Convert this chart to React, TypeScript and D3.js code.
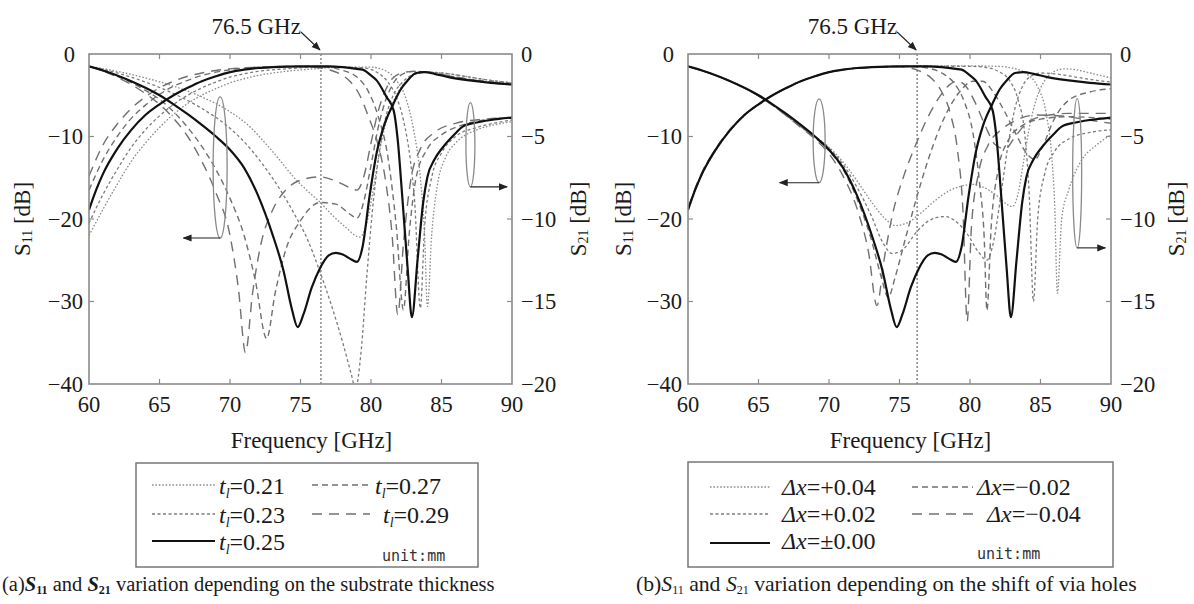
import React from 'react';
import * as d3 from 'd3';

type Pt = [number, number];

// ---------- axes ----------
const freqDomain: [number, number] = [60, 90];
const s11Domain: [number, number] = [-40, 0];
const s21Domain: [number, number] = [-20, 0];
const freqTicks = [60, 65, 70, 75, 80, 85, 90];
const s11Ticks = [0, -10, -20, -30, -40];
const s21Ticks = [0, -5, -10, -15, -20];
const markerLabel = '76.5 GHz';
const markerFreqA = 76.45;
const markerFreqB = 76.25;

// ---------- (a) substrate thickness: S11 [dB] ----------
const s11_t021: Pt[] = [[60,-1.5],[62,-2.1],[64,-2.9],[66,-3.9],[68,-5.2],[70,-7.0],[71.4,-8.8],[72.5,-10.8],[73.5,-12.8],[74.5,-14.9],[75.5,-16.6],[76.4,-18],[77.3,-19.6],[78.2,-21],[79.2,-22.2],[79.7,-20.5],[80.2,-16],[80.7,-11],[81.2,-7.5],[81.8,-5],[82.5,-3.3],[83.3,-2.4],[84,-2.2],[85,-2.3],[87,-2.8],[88.5,-3.2],[90,-3.5]];
const s11_t023: Pt[] = [[60,-1.5],[62,-2.3],[64,-3.4],[66,-4.8],[68,-6.6],[70,-9],[71.4,-11.4],[72.5,-13.8],[73.5,-16.3],[74.5,-19.2],[75.5,-22.5],[76.4,-26.5],[77.2,-30.5],[78,-35],[78.6,-38.8],[78.9,-40.6],[79.3,-36],[79.7,-27],[80.1,-19],[80.5,-13],[81,-8],[81.5,-5.3],[82.3,-3.3],[83,-2.5],[84,-2.2],[85,-2.3],[87,-2.8],[88.5,-3.2],[90,-3.5]];
const s11_t025: Pt[] = [[60,-1.5],[61,-2.0],[62,-2.6],[63,-3.3],[64,-4.1],[65,-5.0],[66,-6.1],[67,-7.3],[68,-8.6],[69,-10.0],[70,-11.6],[71,-13.8],[72,-17.2],[73,-21.8],[73.8,-26.3],[74.4,-31],[74.8,-33.1],[75.2,-31.6],[75.8,-28.3],[76.4,-25.9],[77,-24.4],[77.5,-24.1],[78,-24.3],[78.5,-24.8],[79,-25.2],[79.4,-23.4],[79.9,-17.2],[80.4,-12],[80.9,-8.8],[81.6,-6],[82.1,-4.3],[82.6,-3.2],[83.2,-2.3],[83.8,-2.2],[84.5,-2.4],[85.5,-2.8],[87,-3.2],[88.5,-3.5],[90,-3.7]];
const s11_t027: Pt[] = [[60,-1.5],[62,-2.7],[64,-4.4],[65,-5.5],[66,-7],[67,-8.9],[68,-11.2],[69,-14],[70,-17.5],[71,-22],[71.8,-27.5],[72.6,-34.5],[73.2,-29],[74,-23.5],[75,-20.2],[76.4,-18],[77.5,-18.2],[78.5,-19.4],[79,-19.9],[79.5,-17.8],[80,-13.5],[80.5,-9],[81,-5.8],[81.5,-3.8],[82,-2.7],[83,-2.1],[84,-2.2],[86,-2.8],[88,-3.3],[90,-3.6]];
const s11_t029: Pt[] = [[60,-1.5],[62,-2.8],[64,-4.8],[65,-6.1],[66,-7.8],[67,-10],[68,-13],[69,-16.8],[70,-22],[70.6,-28.5],[71.1,-36.2],[71.6,-29],[72.2,-23],[73,-19],[74,-16.4],[75,-15.3],[76.4,-14.9],[77.5,-15.4],[78.5,-16.2],[79,-16.5],[79.5,-14.8],[80,-10.8],[80.5,-7],[81,-4.5],[81.5,-3],[82,-2.4],[83,-2.1],[84,-2.2],[86,-2.8],[88,-3.3],[90,-3.6]];

// ---------- (a) substrate thickness: S21 [dB] ----------
const s21_t021: Pt[] = [[60,-11],[61,-9.4],[62,-7.9],[63,-6.5],[64,-5.4],[65,-4.45],[66,-3.65],[67,-3],[68,-2.5],[69,-2.1],[70,-1.75],[71,-1.5],[72,-1.3],[74,-1.05],[76,-0.9],[78,-0.8],[80,-0.8],[81,-1],[81.8,-1.6],[82.5,-2.75],[83,-4.5],[83.5,-7.5],[83.8,-11],[84,-15.3],[84.3,-11],[84.7,-8],[85.3,-6.25],[86,-5.4],[87.5,-4.6],[89,-4.25],[90,-4.1]];
const s21_t023: Pt[] = [[60,-10.25],[61,-8.5],[62,-7],[63,-5.65],[64,-4.6],[65,-3.75],[66,-3.05],[67,-2.5],[68,-2.05],[69,-1.7],[70,-1.4],[71,-1.2],[72,-1.05],[74,-0.9],[76,-0.8],[78,-0.8],[79.5,-0.85],[80.5,-1.15],[81.2,-1.7],[81.8,-2.6],[82.3,-4],[82.8,-6.5],[83.1,-9],[83.5,-15.4],[83.8,-10.5],[84.3,-7.5],[85,-6],[86,-5],[87.5,-4.45],[89,-4.15],[90,-4]];
const s21_t025: Pt[] = [[60,-9.45],[60.5,-8.25],[61,-7.25],[62,-5.75],[63,-4.6],[64,-3.7],[65,-3.05],[66,-2.5],[67,-2.05],[68,-1.65],[69,-1.35],[70,-1.1],[71,-0.95],[72,-0.85],[73,-0.8],[75,-0.75],[77,-0.75],[78,-0.8],[79,-0.9],[79.4,-0.95],[80,-1.3],[80.4,-1.6],[81.1,-2.6],[81.6,-3.4],[81.9,-5.25],[82.2,-8.45],[82.6,-13],[82.9,-15.95],[83.3,-12.5],[83.7,-9],[84,-7.45],[84.5,-6.4],[85.1,-5.65],[86,-4.8],[86.5,-4.4],[87.5,-4.15],[88.5,-4],[90,-3.85]];
const s21_t027: Pt[] = [[60,-8.25],[61,-6.4],[62,-5],[63,-3.9],[64,-3.1],[65,-2.45],[66,-1.95],[67,-1.6],[68,-1.3],[69,-1.1],[70,-0.95],[72,-0.8],[75,-0.75],[77,-0.8],[78,-1],[79,-1.4],[79.8,-2.25],[80.5,-3.75],[81.2,-6.25],[81.8,-10.5],[82.3,-15.5],[82.7,-11],[83.2,-7.5],[84,-5.75],[85,-4.9],[86.5,-4.3],[88,-4],[90,-3.85]];
const s21_t029: Pt[] = [[60,-7.4],[61,-5.5],[62,-4.25],[63,-3.3],[64,-2.6],[65,-2.05],[66,-1.65],[67,-1.35],[68,-1.15],[69,-1],[70,-0.9],[72,-0.8],[74,-0.75],[76,-0.8],[77,-0.95],[77.8,-1.2],[78.5,-1.65],[79.2,-2.5],[79.8,-3.75],[80.5,-5.5],[81,-7.5],[81.5,-11],[81.9,-15.8],[82.3,-11.5],[82.8,-7.75],[83.5,-5.75],[84.5,-4.75],[86,-4.2],[88,-3.95],[90,-3.85]];

// ---------- (b) via-hole shift: S11 [dB] ----------
const s11_p004: Pt[] = [[60,-1.5],[62,-2.6],[64,-4.1],[66,-6.2],[68,-8.8],[69,-10],[70,-11.3],[71,-13.1],[72,-15.4],[73,-17.9],[74,-20],[74.7,-20.8],[75.5,-20.5],[76.5,-19.3],[77.5,-17.8],[78.5,-16.6],[79.4,-16],[80.2,-15.8],[81,-16.2],[82,-17.3],[82.6,-18.2],[83,-18.5],[83.4,-17],[83.8,-13],[84.2,-9],[84.7,-5.5],[85.3,-3.2],[86,-2.1],[86.7,-1.8],[87.5,-1.9],[88.5,-2.3],[90,-2.9]];
const s11_p002: Pt[] = [[60,-1.5],[62,-2.6],[64,-4.1],[66,-6.2],[68,-8.8],[69,-10],[70,-11.4],[71,-13.4],[72,-16.2],[73,-19.6],[73.8,-22.8],[74.5,-24.2],[75.3,-23.6],[76.2,-21.6],[77.2,-20.1],[78.2,-19.7],[79,-20.3],[79.8,-21.8],[80.6,-24],[81.2,-25],[81.7,-22.5],[82.2,-17],[82.7,-11],[83.2,-6.5],[83.7,-4],[84.3,-2.7],[85,-2.3],[86,-2.4],[87.5,-2.8],[89,-3.2],[90,-3.4]];
const s11_p000: Pt[] = [[60,-1.5],[61,-2.0],[62,-2.6],[63,-3.3],[64,-4.1],[65,-5.0],[66,-6.1],[67,-7.3],[68,-8.6],[69,-10.0],[70,-11.6],[71,-13.8],[72,-17.2],[73,-21.8],[73.8,-26.3],[74.4,-31],[74.8,-33.1],[75.2,-31.6],[75.8,-28.3],[76.4,-25.9],[77,-24.4],[77.5,-24.1],[78,-24.3],[78.5,-24.8],[79,-25.2],[79.4,-23.4],[79.9,-17.2],[80.4,-12],[80.9,-8.8],[81.6,-6],[82.1,-4.3],[82.6,-3.2],[83.2,-2.3],[83.8,-2.2],[84.5,-2.4],[85.5,-2.8],[87,-3.2],[88.5,-3.5],[90,-3.7]];
const s11_m002: Pt[] = [[60,-1.5],[62,-2.6],[64,-4.1],[66,-6.2],[68,-8.8],[69,-10.1],[70,-11.7],[71,-14],[72,-17.6],[73,-22.5],[73.7,-27],[74.2,-29.5],[74.7,-27],[75.4,-22.5],[76.2,-17.5],[77,-13],[77.8,-9.2],[78.6,-6.3],[79.4,-4.3],[80.2,-3.3],[80.9,-3.3],[81.6,-4.5],[82.4,-6.8],[83.2,-9.5],[84,-12],[84.6,-12.8],[85.2,-11],[86,-7.8],[87,-5.6],[88.5,-4.6],[90,-4.2]];
const s11_m004: Pt[] = [[60,-1.5],[62,-2.6],[64,-4.1],[66,-6.2],[68,-8.9],[69,-10.3],[70,-12.1],[71,-14.8],[72,-18.8],[72.8,-24],[73.4,-30.5],[73.9,-25],[74.5,-19.5],[75.3,-14.8],[76.2,-10.8],[77,-7.7],[77.8,-5.3],[78.5,-3.8],[79.1,-3.3],[79.7,-3.9],[80.4,-6],[81.1,-8.8],[81.8,-11],[82.5,-11.5],[83.2,-10],[84,-8.4],[85,-7.6],[87,-7.2],[90,-7.2]];

// ---------- (b) via-hole shift: S21 [dB] ----------
const s21_p004: Pt[] = [[60,-9.5],[60.5,-8.3],[61,-7.3],[62,-5.8],[63,-4.65],[64,-3.75],[65,-3.05],[66,-2.5],[67,-2.05],[68,-1.65],[69,-1.35],[70,-1.1],[71,-0.95],[72,-0.85],[73,-0.8],[75,-0.75],[78,-0.72],[80,-0.72],[82,-0.75],[83,-0.85],[84,-1.2],[84.8,-2],[85.4,-3.6],[85.8,-6.25],[86,-9],[86.2,-14.5],[86.5,-10],[87,-8.25],[87.8,-6.6],[89,-5.5],[90,-4.9]];
const s21_p002: Pt[] = [[60,-9.45],[60.5,-8.25],[61,-7.25],[62,-5.75],[63,-4.6],[64,-3.7],[65,-3.05],[66,-2.5],[67,-2.05],[68,-1.65],[69,-1.35],[70,-1.1],[71,-0.95],[72,-0.85],[73,-0.8],[75,-0.75],[78,-0.74],[80,-0.75],[81,-0.8],[82,-1.05],[82.8,-1.6],[83.4,-2.75],[83.9,-5],[84.2,-8.5],[84.5,-15],[84.8,-10],[85.3,-7.25],[86,-5.9],[87,-5.15],[88.5,-4.75],[90,-4.6]];
const s21_p000: Pt[] = [[60,-9.45],[60.5,-8.25],[61,-7.25],[62,-5.75],[63,-4.6],[64,-3.7],[65,-3.05],[66,-2.5],[67,-2.05],[68,-1.65],[69,-1.35],[70,-1.1],[71,-0.95],[72,-0.85],[73,-0.8],[75,-0.75],[77,-0.75],[78,-0.8],[79,-0.9],[79.4,-0.95],[80,-1.3],[80.4,-1.6],[81.1,-2.6],[81.6,-3.4],[81.9,-5.25],[82.2,-8.45],[82.6,-13],[82.9,-15.95],[83.3,-12.5],[83.7,-9],[84,-7.45],[84.5,-6.4],[85.1,-5.65],[86,-4.8],[86.5,-4.4],[87.5,-4.15],[88.5,-4],[90,-3.85]];
const s21_m002: Pt[] = [[60,-9.4],[60.5,-8.2],[61,-7.2],[62,-5.7],[63,-4.6],[64,-3.7],[65,-3.05],[66,-2.5],[67,-2.05],[68,-1.65],[69,-1.35],[70,-1.1],[71,-0.95],[72,-0.85],[73,-0.8],[75,-0.75],[76,-0.76],[77,-0.85],[78,-1.15],[78.9,-1.8],[79.6,-2.9],[80.2,-4.75],[80.7,-8],[81,-11],[81.2,-15.55],[81.5,-10.5],[82,-7],[82.7,-5.25],[83.6,-4.4],[85,-3.95],[87,-3.8],[90,-3.95]];
const s21_m004: Pt[] = [[60,-9.35],[60.5,-8.15],[61,-7.15],[62,-5.7],[63,-4.55],[64,-3.7],[65,-3.05],[66,-2.5],[67,-2.05],[68,-1.65],[69,-1.35],[70,-1.1],[71,-0.95],[72,-0.85],[73,-0.8],[75,-0.78],[75.8,-0.85],[76.6,-1.1],[77.3,-1.5],[78,-2.3],[78.6,-3.6],[79.1,-5.75],[79.5,-9.5],[79.8,-16.2],[80.1,-10.5],[80.6,-7.25],[81.3,-5.5],[82.2,-4.6],[83.3,-4],[84.7,-3.7],[86.5,-3.75],[88,-3.95],[90,-4.2]];

// ---------- legends / captions ----------
const legendA = ['0.21', '0.23', '0.25', '0.27', '0.29'];
const legendB = ['+0.04', '+0.02', '±0.00', '−0.02', '−0.04'];

// ---------- styles ----------
type StyleKey = 'dot' | 'short' | 'solid' | 'dash' | 'long';
const STYLES: Record<StyleKey, { stroke: string; width: number; dash?: string }> = {
  dot: { stroke: '#8c8c8c', width: 1.3, dash: '1.6,1.8' },
  short: { stroke: '#7c7c7c', width: 1.3, dash: '3,2.5' },
  solid: { stroke: '#111', width: 2.2 },
  dash: { stroke: '#707070', width: 1.4, dash: '6,4' },
  long: { stroke: '#707070', width: 1.4, dash: '10,7' },
};
const styleOrder: StyleKey[] = ['dot', 'short', 'solid', 'dash', 'long'];

const SERIF = '"Liberation Serif", "Times New Roman", serif';
const fmt = (v: number) => (v < 0 ? `\u2212${-v}` : `${v}`);

type PanelProps = {
  id: string;
  px0: number; px1: number; py0: number; py1: number;
  s11: Pt[][]; s21: Pt[][];
  markerFreq: number;
  ann: { e1f: number; e1t: number; e1b: number; e1rx: number; a1: number; e2f: number; e2t: number; e2b: number; e2rx: number; a2: number };
  leftLabelX: number; rightLabelX: number;
};

function Panel(p: PanelProps) {
  const x = d3.scaleLinear().domain(freqDomain).range([p.px0, p.px1]);
  const yL = d3.scaleLinear().domain(s11Domain).range([p.py1, p.py0]);
  const yR = d3.scaleLinear().domain(s21Domain).range([p.py1, p.py0]);
  const lineL = d3.line<Pt>().x(d => x(d[0])).y(d => yL(d[1])).curve(d3.curveMonotoneX);
  const lineR = d3.line<Pt>().x(d => x(d[0])).y(d => yR(d[1])).curve(d3.curveMonotoneX);
  const frame = '#8a8a8a';
  const drawOrder = [0, 1, 3, 4, 2];
  const mx = x(p.markerFreq);
  return (
    <g>
      <defs>
        <clipPath id={`clip-${p.id}`}>
          <rect x={p.px0} y={p.py0} width={p.px1 - p.px0} height={p.py1 - p.py0} />
        </clipPath>
      </defs>
      <line x1={mx} x2={mx} y1={p.py0} y2={p.py1} stroke="#777" strokeWidth={1.3} strokeDasharray="2,2" />
      <g clipPath={`url(#clip-${p.id})`} fill="none" strokeLinejoin="round">
        {drawOrder.map(i => {
          const st = STYLES[styleOrder[i]];
          return (
            <g key={i}>
              <path d={lineL(p.s11[i]) || ''} stroke={st.stroke} strokeWidth={st.width} strokeDasharray={st.dash} />
              <path d={lineR(p.s21[i]) || ''} stroke={st.stroke} strokeWidth={st.width} strokeDasharray={st.dash} />
            </g>
          );
        })}
      </g>
      <rect x={p.px0} y={p.py0} width={p.px1 - p.px0} height={p.py1 - p.py0} fill="none" stroke={frame} strokeWidth={1.6} />
      {freqTicks.slice(1, -1).map(t => (
        <g key={t} stroke={frame} strokeWidth={1.2}>
          <line x1={x(t)} x2={x(t)} y1={p.py0} y2={p.py0 + 5} />
          <line x1={x(t)} x2={x(t)} y1={p.py1} y2={p.py1 - 5} />
        </g>
      ))}
      {s11Ticks.slice(1, -1).map(t => (
        <line key={t} x1={p.px0} x2={p.px0 + 5} y1={yL(t)} y2={yL(t)} stroke={frame} strokeWidth={1.2} />
      ))}
      {s21Ticks.slice(1, -1).map(t => (
        <line key={t} x1={p.px1} x2={p.px1 - 5} y1={yR(t)} y2={yR(t)} stroke={frame} strokeWidth={1.2} />
      ))}
      <g fontFamily={SERIF} fontSize={22.5} fill="#1a1a1a">
        {freqTicks.map(t => (
          <text key={t} x={x(t)} y={p.py1 + 28} textAnchor="middle">{t}</text>
        ))}
        {s11Ticks.map(t => (
          <text key={t} x={t === 0 ? p.px0 - 14 : p.px0 - 6} y={yL(t) + 7.5} textAnchor="end">{fmt(t)}</text>
        ))}
        {s21Ticks.map(t => (
          <text key={t} x={p.px1 + 9} y={yR(t) + 7.5} textAnchor="start">{fmt(t)}</text>
        ))}
      </g>
      <text x={(p.px0 + p.px1) / 2 + 11} y={p.py1 + 64} textAnchor="middle" fontFamily={SERIF} fontSize={23} fill="#1a1a1a">Frequency [GHz]</text>
      <text transform={`translate(${p.leftLabelX},${(p.py0 + p.py1) / 2}) rotate(-90)`} textAnchor="middle" dominantBaseline="central" fontFamily={SERIF} fontSize={23} fill="#1a1a1a">
        S<tspan fontSize={14} dy={5}>11</tspan><tspan dy={-5}> [dB]</tspan>
      </text>
      <text transform={`translate(${p.rightLabelX},${(p.py0 + p.py1) / 2}) rotate(-90)`} textAnchor="middle" dominantBaseline="central" fontFamily={SERIF} fontSize={23} fill="#1a1a1a">
        S<tspan fontSize={14} dy={5}>21</tspan><tspan dy={-5}> [dB]</tspan>
      </text>
      <text x={mx - 20} y={p.py0 - 20} textAnchor="end" fontFamily={SERIF} fontSize={23} fill="#1a1a1a">{markerLabel}</text>
      <line x1={mx - 20} y1={p.py0 - 22} x2={mx - 1} y2={p.py0 - 4} stroke="#222" strokeWidth={1.1} markerEnd="url(#arrowHead)" />
      <ellipse cx={x(p.ann.e1f)} cy={(yL(p.ann.e1t) + yL(p.ann.e1b)) / 2} rx={p.ann.e1rx} ry={(yL(p.ann.e1b) - yL(p.ann.e1t)) / 2} fill="none" stroke="#8a8a8a" strokeWidth={1.3} />
      <line x1={x(p.ann.e1f)} y1={yL(p.ann.e1b)} x2={x(p.ann.a1)} y2={yL(p.ann.e1b)} stroke="#222" strokeWidth={1.1} markerEnd="url(#arrowHead)" />
      <ellipse cx={x(p.ann.e2f)} cy={(yR(p.ann.e2t) + yR(p.ann.e2b)) / 2} rx={p.ann.e2rx} ry={(yR(p.ann.e2b) - yR(p.ann.e2t)) / 2} fill="none" stroke="#8a8a8a" strokeWidth={1.3} />
      <line x1={x(p.ann.e2f)} y1={yR(p.ann.e2b)} x2={x(p.ann.a2)} y2={yR(p.ann.e2b)} stroke="#222" strokeWidth={1.1} markerEnd="url(#arrowHead)" />
    </g>
  );
}

type LegendProps = {
  box: [number, number, number, number];
  cols: { lx0: number; lx1: number; tx: number[] }[];
  rows: { line: number; base: number }[];
  labels: React.ReactNode[];
  unit: [number, number];
};

function Legend(l: LegendProps) {
  const [bx0, by0, bx1, by1] = l.box;
  const slots = [
    { c: 0, r: 0 }, { c: 0, r: 1 }, { c: 0, r: 2 }, { c: 1, r: 0 }, { c: 1, r: 1 },
  ];
  return (
    <g>
      <rect x={bx0} y={by0} width={bx1 - bx0} height={by1 - by0} fill="#fff" stroke="#777" strokeWidth={1.5} />
      {slots.map((s, i) => {
        const st = STYLES[styleOrder[i]];
        const col = l.cols[s.c];
        const row = l.rows[s.r];
        return (
          <g key={i}>
            <line x1={col.lx0} x2={col.lx1} y1={row.line} y2={row.line} stroke={st.stroke} strokeWidth={st.width} strokeDasharray={st.dash} />
            <text x={col.tx[s.r]} y={row.base} fontFamily={SERIF} fontSize={24} fill="#1a1a1a">{l.labels[i]}</text>
          </g>
        );
      })}
      <text x={l.unit[0]} y={l.unit[1]} fontFamily='"DejaVu Sans Mono", monospace' fontSize={15} fill="#333">unit:mm</text>
    </g>
  );
}

const tLabel = (v: string) => (
  <>
    <tspan fontStyle="italic">t</tspan>
    <tspan fontStyle="italic" fontSize={14} dy={4}>l</tspan>
    <tspan dy={-4}>={v}</tspan>
  </>
);
const dxLabel = (v: string) => (
  <>
    <tspan fontStyle="italic">Δx</tspan>
    <tspan>={v}</tspan>
  </>
);

export default function App() {
  return (
    <svg width={1194} height={604} viewBox="0 0 1194 604" style={{ position: 'absolute', left: 0, top: 0, background: '#fff' }}>
      <defs>
        <marker id="arrowHead" viewBox="0 0 10 10" refX={9} refY={5} markerWidth={9} markerHeight={9} markerUnits="userSpaceOnUse" orient="auto">
          <path d="M0,1 L10,5 L0,9 z" fill="#222" />
        </marker>
      </defs>
      <rect x={0} y={0} width={1194} height={604} fill="#fff" />
      <Panel
        id="a" px0={89} px1={512} py0={54} py1={384}
        s11={[s11_t021, s11_t023, s11_t025, s11_t027, s11_t029]}
        s21={[s21_t021, s21_t023, s21_t025, s21_t027, s21_t029]}
        markerFreq={markerFreqA}
        ann={{ e1f: 69.3, e1t: -5.2, e1b: -22.3, e1rx: 7, a1: 66.7, e2f: 87.05, e2t: -2.95, e2b: -8.05, e2rx: 4.5, a2: 89.65 }}
        leftLabelX={22} rightLabelX={578}
      />
      <Panel
        id="b" px0={688} px1={1111} py0={54} py1={384}
        s11={[s11_p004, s11_p002, s11_p000, s11_m002, s11_m004]}
        s21={[s21_p004, s21_p002, s21_p000, s21_m002, s21_m004]}
        markerFreq={markerFreqB}
        ann={{ e1f: 69.3, e1t: -5.45, e1b: -15.6, e1rx: 6, a1: 66.5, e2f: 87.6, e2t: -2.7, e2b: -11.75, e2rx: 4.5, a2: 89.6 }}
        leftLabelX={623} rightLabelX={1176}
      />
      <Legend
        box={[136, 463, 478, 567]}
        cols={[{ lx0: 152, lx1: 215, tx: [219, 219, 219] }, { lx0: 312, lx1: 370, tx: [375, 383] }]}
        rows={[{ line: 485, base: 494 }, { line: 514, base: 523 }, { line: 541, base: 550 }]}
        labels={legendA.map(v => tLabel(v))}
        unit={[382, 561]}
      />
      <Legend
        box={[688, 462, 1113, 567]}
        cols={[{ lx0: 710, lx1: 770, tx: [782, 782, 782] }, { lx0: 912, lx1: 973, tx: [977, 987] }]}
        rows={[{ line: 487, base: 495 }, { line: 514, base: 522 }, { line: 543, base: 549 }]}
        labels={legendB.map(v => dxLabel(v))}
        unit={[977, 559]}
      />
      <text x={2} y={591} fontFamily={SERIF} fontSize={20.5} fill="#1a1a1a">
        (a)<tspan fontWeight="bold" fontStyle="italic">S</tspan><tspan fontWeight="bold" fontSize={12} dy={3}>11</tspan>
        <tspan dy={-3}> and </tspan><tspan fontWeight="bold" fontStyle="italic">S</tspan><tspan fontWeight="bold" fontSize={12} dy={3}>21</tspan>
        <tspan dy={-3}> variation depending on the substrate thickness</tspan>
      </text>
      <text x={636} y={591} fontFamily={SERIF} fontSize={21.7} fill="#1a1a1a">
        (b)<tspan fontStyle="italic">S</tspan><tspan fontSize={12} dy={3}>11</tspan>
        <tspan dy={-3}> and </tspan><tspan fontStyle="italic">S</tspan><tspan fontSize={12} dy={3}>21</tspan>
        <tspan dy={-3}> variation depending on the shift of via holes</tspan>
      </text>
    </svg>
  );
}
